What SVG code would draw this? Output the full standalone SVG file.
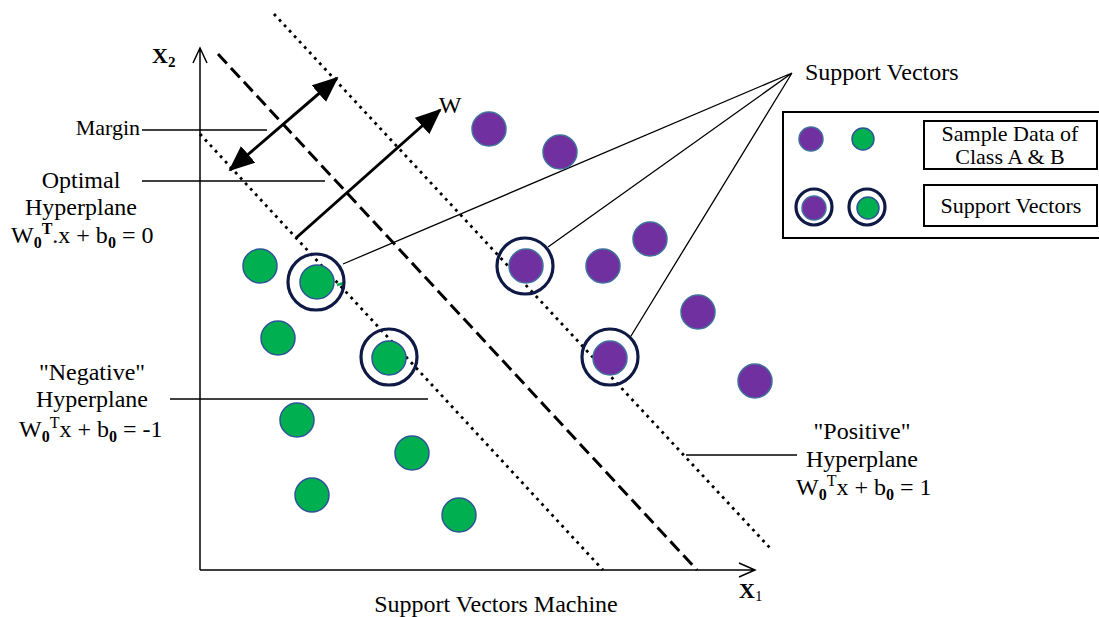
<svg xmlns="http://www.w3.org/2000/svg" width="1099" height="617" viewBox="0 0 1099 617" font-family="'Liberation Serif', 'Times New Roman', 'DejaVu Serif', serif">
<defs>
<style>
text{font-family:'Liberation Serif','Times New Roman','DejaVu Serif',serif;fill:#000}
.lbl{font-size:24px}
.lg{font-size:22px}
.ln{stroke:#000;stroke-width:1.5;fill:none}
.sv{stroke:#000;stroke-width:1.3;fill:none}
.gr{fill:#00B050;stroke:#2F5597;stroke-width:1.5}
.pu{fill:#7030A0;stroke:#41719C;stroke-width:1.5}
.ring{fill:none;stroke:#0E1A45;stroke-width:3.2}
.dot{stroke:#000;stroke-width:2.8;fill:none;stroke-dasharray:2.8 4.6}
.dash{stroke:#000;stroke-width:3;fill:none;stroke-dasharray:13 6}
.box{fill:#fff;stroke:#000;stroke-width:2}
</style>
<marker id="ah" markerUnits="userSpaceOnUse" markerWidth="26" markerHeight="22" refX="24" refY="11" orient="auto-start-reverse">
<path d="M0,0 L26,11 L0,22 z" fill="#000"/>
</marker>
</defs>
<rect width="1099" height="617" fill="#fff"/>

<g id="axes">
<path class="ln" d="M200,570 V48 M193,63 L200,48 L207,63"/>
<path class="ln" d="M200,570 H755 M739,563 L755,570 L739,577"/>
<text x="152" y="63" font-weight="bold" font-size="22">X<tspan font-size="15" dy="4">2</tspan></text>
<text x="739" y="598" font-weight="bold" font-size="22">X<tspan font-size="15" font-weight="normal" dy="3">1</tspan></text>
</g>

<g id="hyperplanes">
<path class="dot" d="M200,134 L603,570"/>
<path class="dash" d="M218,54 L697,570"/>
<path class="dot" d="M274,14 L770,548"/>
</g>

<g id="connectors">
<path d="M230,170 L337,78" stroke="#000" stroke-width="3" marker-start="url(#ah)" marker-end="url(#ah)"/>
<path d="M296,238 L440,110" stroke="#000" stroke-width="3" marker-end="url(#ah)"/>
<path class="ln" d="M142,130 H267"/>
<path class="ln" d="M142,181 H325"/>
<path class="ln" d="M170,399 H428"/>
<path class="ln" d="M686,455 H797"/>
<path class="sv" d="M792,73 L343,264 M792,73 L548,247 M792,73 L631,336"/>
</g>

<g id="class-a">
<circle class="gr" cx="260" cy="266" r="17"/>
<circle class="gr" cx="317" cy="282" r="17"/>
<circle class="gr" cx="278" cy="338" r="17"/>
<circle class="gr" cx="389" cy="358" r="17"/>
<circle class="gr" cx="297" cy="420" r="17"/>
<circle class="gr" cx="412" cy="453" r="17"/>
<circle class="gr" cx="312" cy="495" r="17"/>
<circle class="gr" cx="459" cy="515" r="17"/>
<path d="M337,285 L344,283" stroke="#00B050" stroke-width="2.5"/>
</g>

<g id="class-b">
<circle class="pu" cx="489" cy="129" r="17"/>
<circle class="pu" cx="560" cy="152" r="17"/>
<circle class="pu" cx="526" cy="266" r="17"/>
<circle class="pu" cx="603" cy="266" r="17"/>
<circle class="pu" cx="650" cy="239" r="17"/>
<circle class="pu" cx="698" cy="312" r="17"/>
<circle class="pu" cx="610" cy="358" r="17"/>
<circle class="pu" cx="755" cy="381" r="17"/>
</g>

<g id="support-rings">
<circle class="ring" cx="316" cy="282" r="28"/>
<circle class="ring" cx="389" cy="357" r="28"/>
<circle class="ring" cx="525" cy="266" r="28"/>
<circle class="ring" cx="610" cy="357" r="28"/>
</g>

<g id="labels">
<text class="lg" x="140" y="135" text-anchor="end">Margin</text>
<text class="lbl" x="81" y="188" text-anchor="middle">Optimal</text>
<text class="lbl" x="81" y="215" text-anchor="middle">Hyperplane</text>
<text class="lbl" x="11" y="243">W<tspan font-size="16" font-weight="bold" dy="5">0</tspan><tspan font-size="16" font-weight="bold" dy="-14">T</tspan><tspan dy="9">.x + b</tspan><tspan font-size="16" font-weight="bold" dy="5">0</tspan><tspan dy="-5"> = 0</tspan></text>
<text class="lbl" x="450" y="113" text-anchor="middle">W</text>
<text class="lbl" x="92" y="380" text-anchor="middle">"Negative"</text>
<text class="lbl" x="92" y="407" text-anchor="middle">Hyperplane</text>
<text class="lbl" x="19" y="437">W<tspan font-size="16" font-weight="bold" dy="5">0</tspan><tspan font-size="16" dy="-14">T</tspan><tspan dy="9">x + b</tspan><tspan font-size="16" font-weight="bold" dy="5">0</tspan><tspan dy="-5"> = -1</tspan></text>
<text class="lbl" x="862" y="439" text-anchor="middle">"Positive"</text>
<text class="lbl" x="862" y="467" text-anchor="middle">Hyperplane</text>
<text class="lbl" x="796" y="495">W<tspan font-size="16" font-weight="bold" dy="5">0</tspan><tspan font-size="16" dy="-14">T</tspan><tspan dy="9">x + b</tspan><tspan font-size="16" font-weight="bold" dy="5">0</tspan><tspan dy="-5"> = 1</tspan></text>
<text class="lbl" x="805" y="80">Support Vectors</text>
<text class="lbl" x="496" y="612" text-anchor="middle">Support Vectors Machine</text>
</g>

<g id="legend">
<rect class="box" x="783" y="112" width="330" height="126"/>
<circle class="pu" cx="811" cy="139" r="12"/>
<circle class="gr" cx="863" cy="139" r="11"/>
<circle class="pu" cx="814" cy="208" r="12"/>
<circle class="ring" cx="814" cy="207" r="18"/>
<circle class="gr" cx="868" cy="208" r="11"/>
<circle class="ring" cx="867" cy="207" r="18"/>
<rect class="box" x="924" y="121" width="173" height="48"/>
<text class="lg" x="1010" y="141" text-anchor="middle">Sample Data of</text>
<text class="lg" x="1010" y="164" text-anchor="middle">Class A &amp; B</text>
<rect class="box" x="924" y="185" width="173" height="41"/>
<text class="lg" x="1011" y="213" text-anchor="middle">Support Vectors</text>
</g>
</svg>
